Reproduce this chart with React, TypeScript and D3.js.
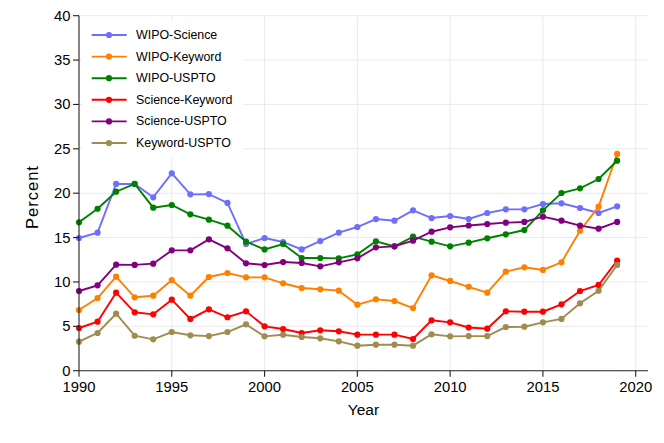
import React from "react";
import * as d3 from "d3";

const years = [1990, 1991, 1992, 1993, 1994, 1995, 1996, 1997, 1998, 1999, 2000, 2001, 2002, 2003, 2004, 2005, 2006, 2007, 2008, 2009, 2010, 2011, 2012, 2013, 2014, 2015, 2016, 2017, 2018, 2019];

const wipoScience = [14.95, 15.55, 21.04, 21.04, 19.54, 22.24, 19.87, 19.9, 18.9, 14.28, 14.95, 14.5, 13.67, 14.61, 15.55, 16.19, 17.09, 16.9, 18.07, 17.2, 17.43, 17.09, 17.77, 18.18, 18.18, 18.78, 18.86, 18.33, 17.77, 18.52];
const wipoKeyword = [6.84, 8.19, 10.6, 8.27, 8.45, 10.22, 8.45, 10.56, 11.01, 10.52, 10.52, 9.85, 9.32, 9.17, 9.02, 7.44, 8.04, 7.85, 7.06, 10.75, 10.11, 9.45, 8.79, 11.16, 11.65, 11.35, 12.21, 15.77, 18.48, 24.42];
const wipoUspto = [16.72, 18.25, 20.17, 21.04, 18.37, 18.67, 17.62, 17.02, 16.34, 14.54, 13.67, 14.28, 12.7, 12.7, 12.66, 13.11, 14.58, 14.01, 15.1, 14.54, 14.01, 14.43, 14.92, 15.37, 15.85, 18.07, 20.02, 20.55, 21.6, 23.66];
const scienceKeyword = [4.81, 5.52, 8.79, 6.58, 6.35, 8.0, 5.83, 6.92, 6.02, 6.69, 5.0, 4.7, 4.25, 4.55, 4.44, 4.06, 4.06, 4.06, 3.57, 5.68, 5.45, 4.87, 4.73, 6.69, 6.65, 6.65, 7.48, 8.98, 9.66, 12.4];
const scienceUspto = [8.98, 9.62, 11.95, 11.92, 12.06, 13.56, 13.56, 14.8, 13.79, 12.1, 11.91, 12.25, 12.14, 11.76, 12.21, 12.66, 13.9, 14.01, 14.65, 15.66, 16.15, 16.36, 16.53, 16.68, 16.76, 17.36, 16.9, 16.34, 16.0, 16.76];
const keywordUspto = [3.27, 4.25, 6.42, 3.94, 3.53, 4.36, 3.99, 3.9, 4.36, 5.22, 3.87, 4.05, 3.8, 3.65, 3.31, 2.82, 2.93, 2.93, 2.82, 4.1, 3.87, 3.9, 3.9, 4.92, 4.96, 5.45, 5.83, 7.59, 9.01, 11.91];

const seriesNames = ["WIPO-Science", "WIPO-Keyword", "WIPO-USPTO", "Science-Keyword", "Science-USPTO", "Keyword-USPTO"];
const seriesValues = [wipoScience, wipoKeyword, wipoUspto, scienceKeyword, scienceUspto, keywordUspto];
const seriesColors = ["#6f6fff", "#ff8000", "#008000", "#ff0000", "#800080", "#a08c50"];

const xTicks = [1990, 1995, 2000, 2005, 2010, 2015, 2020];
const yTicks = [0, 5, 10, 15, 20, 25, 30, 35, 40];

const FONT = "'Liberation Sans', Arial, Helvetica, sans-serif";

export default function App() {
  const x = d3.scaleLinear().domain([1990, 2020]).range([79, 635.7]);
  const y = d3.scaleLinear().domain([0, 40]).range([370.7, 15.7]);
  const xEnd = 648;
  const line = d3
    .line<number>()
    .x((_, i) => x(years[i]))
    .y((d) => y(d));

  return (
    <svg
      width={664}
      height={443}
      style={{ position: "fixed", left: 0, top: 0, background: "#fff" }}
      fontFamily={FONT}
    >
      <rect x={0} y={0} width={664} height={443} fill="#fff" />
      {/* grid */}
      {yTicks.filter((t) => t > 0).map((t) => (
        <line key={"gy" + t} x1={x(1990)} x2={xEnd} y1={y(t)} y2={y(t)} stroke="#eaeaea" strokeWidth={1} />
      ))}
      {xTicks.filter((t) => t > 1990).map((t) => (
        <line key={"gx" + t} x1={x(t)} x2={x(t)} y1={y(40)} y2={y(0)} stroke="#eaeaea" strokeWidth={1} />
      ))}
      {/* legend background */}
      <rect x={82} y={21} width={161} height={137} fill="#fff" />
      {/* series */}
      {seriesValues.map((vals, si) => (
        <g key={"s" + si}>
          <path d={line(vals) || ""} fill="none" stroke={seriesColors[si]} strokeWidth={1.9} />
          {vals.map((v, i) => (
            <circle key={i} cx={x(years[i])} cy={y(v)} r={3.1} fill={seriesColors[si]} />
          ))}
        </g>
      ))}
      {/* axes */}
      <line x1={x(1990)} x2={x(1990)} y1={y(40)} y2={y(0)} stroke="#222" strokeWidth={1.1} />
      <line x1={x(1990)} x2={xEnd} y1={y(0)} y2={y(0)} stroke="#222" strokeWidth={1.1} />
      {yTicks.map((t) => (
        <g key={"yt" + t}>
          <line x1={x(1990) - 6} x2={x(1990)} y1={y(t)} y2={y(t)} stroke="#222" strokeWidth={1.1} />
          <text x={70.5} y={y(t)} textAnchor="end" dominantBaseline="central" fontSize={14.8} fill="#000">
            {t}
          </text>
        </g>
      ))}
      {xTicks.map((t) => (
        <g key={"xt" + t}>
          <line x1={x(t)} x2={x(t)} y1={y(0)} y2={y(0) + 6} stroke="#222" strokeWidth={1.1} />
          <text x={x(t)} y={392} textAnchor="middle" fontSize={14.8} fill="#000">
            {t}
          </text>
        </g>
      ))}
      <text x={(79 + xEnd) / 2} y={415} textAnchor="middle" fontSize={15.5} fill="#000">
        Year
      </text>
      <text
        transform={`translate(38.3, 197) rotate(-90)`}
        textAnchor="middle"
        fontSize={16.5}
        letterSpacing={1}
        fill="#000"
      >
        Percent
      </text>
      {/* legend */}
      {seriesNames.map((name, i) => {
        const ly = 35 + i * 21.6;
        return (
          <g key={"lg" + i}>
            <line x1={91.7} x2={126.7} y1={ly} y2={ly} stroke={seriesColors[i]} strokeWidth={1.9} />
            <circle cx={109} cy={ly} r={3.1} fill={seriesColors[i]} />
            <text x={136} y={ly} dominantBaseline="central" fontSize={12.4} fill="#000">
              {name}
            </text>
          </g>
        );
      })}
    </svg>
  );
}
